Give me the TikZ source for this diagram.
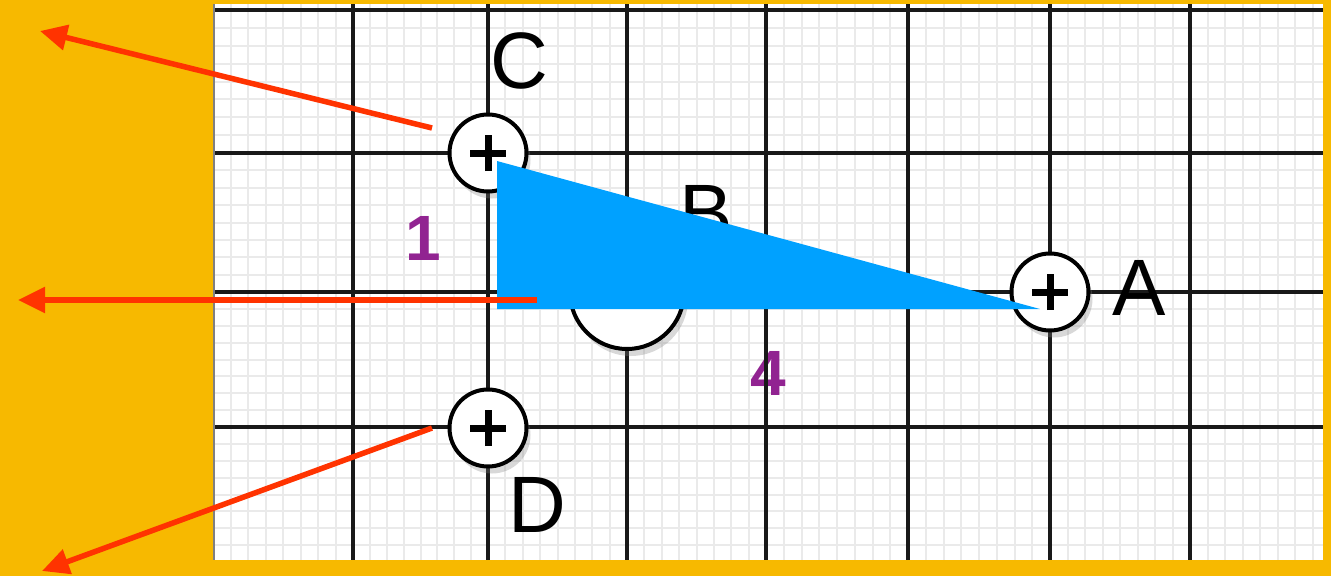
\documentclass[tikz,border=0pt]{standalone}
\usepackage{fontspec}
\setmainfont{Liberation Sans}
\usetikzlibrary{arrows.meta,shadows}
\definecolor{bgAmber}{RGB}{247,185,0}
\definecolor{gridMinor}{RGB}{234,234,234}
\definecolor{gridMajor}{RGB}{25,25,25}
\definecolor{wedgeBlue}{RGB}{0,161,255}
\definecolor{rayRed}{RGB}{255,51,0}
\definecolor{numPurple}{RGB}{145,35,145}
\tikzset{
  minorline/.style={draw=gridMinor, line width=2pt},
  majorline/.style={draw=gridMajor, line width=3.8pt},
  pinhole/.style={
    circle, draw=black, line width=4pt, fill=white,
    minimum size=77pt, inner sep=0pt,
    drop shadow={opacity=0.3, shadow xshift=4pt, shadow yshift=-7pt},
    path picture={
      \draw[line width=7pt] ([xshift=-18pt]path picture bounding box.center) -- ([xshift=18pt]path picture bounding box.center);
      \draw[line width=7pt] ([yshift=-18pt]path picture bounding box.center) -- ([yshift=18pt]path picture bounding box.center);}},
  lensdisc/.style={
    circle, draw=black, line width=4pt, fill=white,
    minimum size=114pt, inner sep=0pt,
    drop shadow={opacity=0.3, shadow xshift=4pt, shadow yshift=-7pt}},
  ptlabel/.style={inner sep=0pt, font=\fontsize{80}{80}\selectfont},
  numlabel/.style={inner sep=0pt, text=numPurple, font=\fontsize{64}{64}\selectfont\bfseries},
  rayline/.style={-{Triangle[length=27pt, width=25pt]}, draw=rayRed, line width=5.5pt}
}
\begin{document}
\begin{tikzpicture}[x=1pt, y=-1pt]
  \useasboundingbox (0,0) rectangle (1331,576);
  \fill[bgAmber] (0,0) rectangle (1331,576);

  % graph paper
  \begin{scope}
    \clip (213,4) rectangle (1323,560);
    \fill[white] (213,4) rectangle (1323,560);
    \foreach \a/\b in {213/353,353/488,488/627,627/766,766/908,908/1050,1050/1190,1190/1330}
      \foreach \k in {1,...,7}
        \draw[minorline] ({\a+(\b-\a)*\k/8},4) -- ++(0,556);
    \foreach \a/\b in {-130/10,10/153,153/292,292/427,427/562}
      \foreach \k in {1,...,7}
        \draw[minorline] (213,{\a+(\b-\a)*\k/8}) -- (1323,{\a+(\b-\a)*\k/8});
    \node[numlabel] (n1) at (423,238) {1};
    \node[numlabel] (n4) at (768,373) {4};
    \foreach \x in {353,488,627,766,908,1050,1190}
      \draw[majorline] (\x,4) -- (\x,560);
    \foreach \y in {10,153,292,427}
      \draw[majorline] (213,\y) -- (1323,\y);
  \end{scope}
  \draw[gray, line width=2.5pt] (214,4) -- (214,560);

  \node[lensdisc] (lens) at (627,292) {};
  \node[ptlabel] (B) at (706,213) {B};

  \node[pinhole] (C) at (488,153) {};
  \node[pinhole] (A) at (1050,292) {};
  \node[pinhole] (D) at (488,428) {};
  \node[ptlabel] (Clab) at (519,61) {C};
  \node[ptlabel] (Alab) at (1139,288) {A};
  \node[ptlabel] (Dlab) at (537,505) {D};

  \fill[wedgeBlue] (497,161) -- (497,309) -- (1040,309) -- cycle;

  \coordinate (r1s) at (432,128);
  \coordinate (r1e) at (40,31);
  \coordinate (r2s) at (537,300);
  \coordinate (r2e) at (18,300);
  \coordinate (r3s) at (432,428);
  \coordinate (r3e) at (42,571);
  \draw[rayline] (r1s) -- (r1e);
  \draw[rayline] (r2s) -- (r2e);
  \draw[rayline] (r3s) -- (r3e);
\end{tikzpicture}
\end{document}
